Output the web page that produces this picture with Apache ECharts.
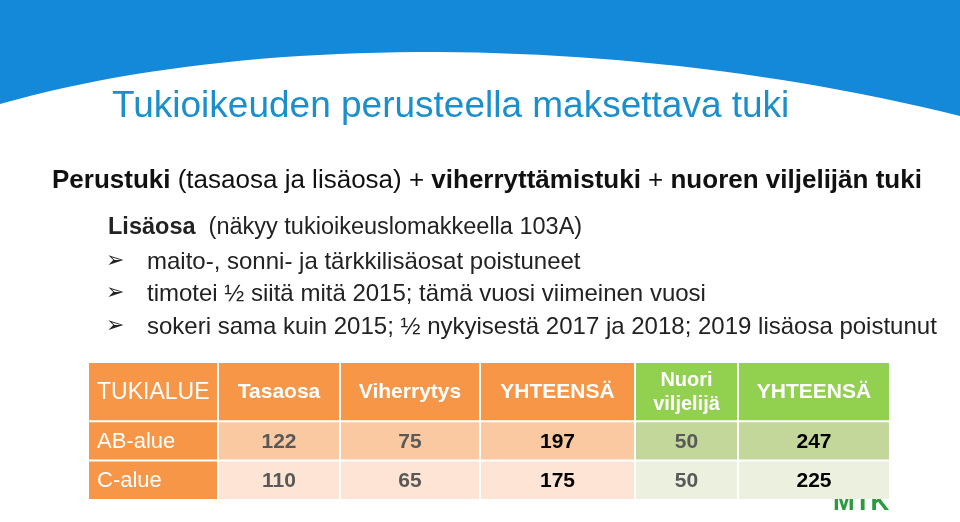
<!DOCTYPE html><html><head><meta charset="utf-8"><script src="https://cdn.jsdelivr.net/npm/echarts@6/dist/echarts.min.js"></script>
<style>html,body{margin:0;padding:0;background:#fff}#c{width:960px;height:522px}</style></head><body><div id="c"></div><script>
const headers=['TUKIALUE','Tasaosa','Viherrytys','YHTEENSÄ','Nuori\nviljelijä','YHTEENSÄ'];
const regions=['AB-alue','C-alue'];
const tasaosa=[122,110];
const viherrytys=[75,65];
const yhteensa1=[197,175];
const nuori=[50,50];
const yhteensa2=[247,225];
const colEdges=[0,130,252,392,547,650,802];
const rowEdges=[0,60,100,140];
const cells=[];
headers.forEach((h,c)=>cells.push([c,0,h]));
regions.forEach((r,i)=>{[r,tasaosa[i],viherrytys[i],yhteensa1[i],nuori[i],yhteensa2[i]].forEach((v,c)=>cells.push([c,i+1,v]));});
const fills=[['#F79646','#F79646','#F79646','#F79646','#92D050','#92D050'],
['#F79646','#FBC9A1','#FBC9A1','#FBC9A1','#C4D79B','#C4D79B'],
['#F79646','#FDE4D4','#FDE4D4','#FDE4D4','#EBF1DE','#EBF1DE']];
const ch=echarts.init(document.getElementById('c'));
const F='Liberation Sans, Arial, sans-serif';
function band(){const p=[[0,0],[960,0]];for(let i=0;i<=50;i++){const t=1-i/50,u=1-t;p.push([3*u*u*t*260+3*u*t*t*640+t*t*t*960,u*u*u*104+3*u*u*t*30+3*u*t*t*36+t*t*t*116]);}p.push([0,104]);return p;}
ch.setOption({
animation:false,
grid:{left:88,right:70,top:362,bottom:22},
xAxis:{type:'value',min:0,max:802,show:false},
yAxis:{type:'value',min:0,max:140,inverse:true,show:false},
graphic:[
{type:'polygon',z:0,shape:{points:band()},style:{fill:'#1589D9'}},
{type:'text',left:112,top:88,style:{text:'Tukioikeuden perusteella maksettava tuki',font:'37px '+F,fill:'#1A8FCC'}},
{type:'text',left:52,top:168,style:{text:'{b|Perustuki} (tasaosa ja lisäosa) + {b|viherryttämistuki} + {b|nuoren viljelijän tuki}',font:'26px '+F,fill:'#111',rich:{b:{fontWeight:'bold',fontSize:26,fontFamily:F,fill:'#111'}}}},
{type:'text',left:108,top:216,style:{text:'{b|Lisäosa}  (näkyy tukioikeuslomakkeella 103A)',font:'23.5px '+F,fill:'#222',rich:{b:{fontWeight:'bold',fontSize:23.5,fontFamily:F,fill:'#222'}}}},
...['maito-, sonni- ja tärkkilisäosat poistuneet','timotei ½ siitä mitä 2015; tämä vuosi viimeinen vuosi','sokeri sama kuin 2015; ½ nykyisestä 2017 ja 2018; 2019 lisäosa poistunut'].flatMap((t,i)=>[
{type:'text',left:106,top:250+i*32.5,style:{text:'➢',font:'22px DejaVu Sans',fill:'#222'}},
{type:'text',left:147,top:250+i*32.5,style:{text:t,font:'24px '+F,fill:'#222'}}]),
{type:'text',left:833,top:490,z:-1,style:{text:'MTK',font:'bold 26px '+F,fill:'#2E9A3F'}}
],
series:[{type:'custom',data:cells,renderItem:function(p,api){
const c=api.value(0),r=api.value(1),v=cells[p.dataIndex][2];
const a=api.coord([colEdges[c],rowEdges[r]]),b=api.coord([colEdges[c+1],rowEdges[r+1]]);
const x=a[0]+1,y=a[1]+1,w=b[0]-a[0]-2,h=b[1]-a[1]-2;
let weight='bold',size=21,color='#595959',align='center',tx=x+w/2;
if(r===0){weight=c===0?'normal':'bold';size=c===0?23:21;}
else if(c===0){weight='normal';size=22;}
else if(c===3||c===5){color='#000';}
if(c===0){align='left';tx=x+8;}
if(r===0&&c===4)size=20;
return {type:'group',children:[
{type:'rect',shape:{x:x,y:y,width:w,height:h},style:{fill:fills[r][c]}},
{type:'text',style:{text:String(v),x:tx,y:y+h/2+1,align:align,verticalAlign:'middle',font:weight+' '+size+'px '+F,fill:r===0||c===0?'#fff':color,lineHeight:24}}]};
}}]
});
</script></body></html>
